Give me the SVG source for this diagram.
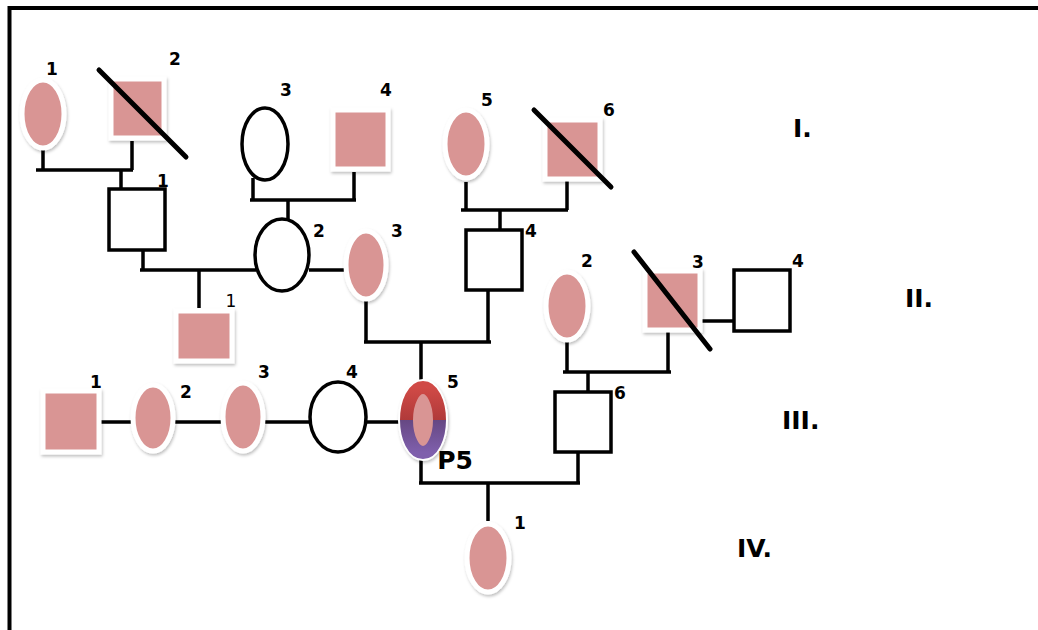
<svg xmlns="http://www.w3.org/2000/svg" width="1038" height="630" viewBox="0 0 1038 630">
<defs>
<style>
.pk{fill:#d99594;stroke:#fff;stroke-width:5;filter:url(#sh)}
.op{fill:#fff;stroke:#000;stroke-width:3.5}
.ln{fill:none;stroke:#000;stroke-width:3.5}
.dg{stroke:#000;stroke-width:5;stroke-linecap:round}
.lb{font-family:"DejaVu Sans",Verdana,sans-serif;font-weight:bold;font-size:17px;text-anchor:middle;fill:#000}
.lr{font-family:"DejaVu Sans",Verdana,sans-serif;font-size:17px;text-anchor:middle;fill:#000}
.gen{font-family:"DejaVu Sans",Verdana,sans-serif;font-weight:bold;font-size:25px;fill:#000}
</style>
<filter id="sh" x="-30%" y="-30%" width="160%" height="160%">
<feDropShadow dx="1" dy="2" stdDeviation="1.5" flood-color="#000" flood-opacity="0.25"/>
</filter>
<linearGradient id="ring" x1="0" y1="0" x2="0" y2="1">
<stop offset="0" stop-color="#d04a46"/>
<stop offset="0.5" stop-color="#b03a3a"/>
<stop offset="0.5" stop-color="#664883"/>
<stop offset="1" stop-color="#7f5fac"/>
</linearGradient>
</defs>
<rect width="1038" height="630" fill="#fff"/>
<g id="frame">
<line x1="9.5" y1="8" x2="1038" y2="8" stroke="#000" stroke-width="4"/>
<line x1="9.5" y1="6" x2="9.5" y2="630" stroke="#000" stroke-width="4"/>
</g>
<g id="connectors">
<path class="ln" d="M43,150 V170 M36,170 H133 M132,141 V170 M121,170 V190"/>
<path class="ln" d="M253,178 V200 M250,200 H356 M354,172 V200 M288,200 V220"/>
<path class="ln" d="M466,182 V210 M461,210 H568 M567,181 V210 M500,210 V230"/>
<path class="ln" d="M143,250 V270 M140,270 H256 M199,270 V308"/>
<path class="ln" d="M309,270 H346"/>
<path class="ln" d="M366,298 V342 M364,342 H491 M488,290 V342 M421,342 V381"/>
<path class="ln" d="M567,342 V372 M563,372 H671 M668,332 V372 M588,372 V392"/>
<path class="ln" d="M701,321 H734"/>
<path class="ln" d="M100,422 H132 M174,422 H222 M265,422 H310 M366,422 H400"/>
<path class="ln" d="M421,458 V483 M419,483 H580 M578,452 V483 M488,483 V521"/>
</g>
<g id="I-1"><ellipse class="pk" cx="43" cy="114" rx="21" ry="34"/><text class="lb" x="52" y="75">1</text></g>
<g id="I-2"><rect class="pk" x="111" y="79" width="53" height="59"/><line class="dg" x1="99" y1="70" x2="186" y2="157"/><text class="lb" x="175" y="65">2</text></g>
<g id="I-3"><ellipse class="op" cx="265" cy="144" rx="23" ry="36"/><text class="lb" x="286" y="96">3</text></g>
<g id="I-4"><rect class="pk" x="333" y="110" width="55" height="59"/><text class="lb" x="386" y="96">4</text></g>
<g id="I-5"><ellipse class="pk" cx="466" cy="144" rx="21" ry="34"/><text class="lb" x="487" y="106">5</text></g>
<g id="I-6"><rect class="pk" x="545" y="120" width="55" height="59"/><line class="dg" x1="534" y1="110" x2="611" y2="187"/><text class="lb" x="609" y="116">6</text></g>
<g id="II-1"><rect class="op" x="109" y="189" width="56" height="61"/><text class="lb" x="163" y="187">1</text></g>
<g id="II-2"><ellipse class="op" cx="282" cy="255" rx="27" ry="36"/><text class="lb" x="319" y="237">2</text></g>
<g id="II-1c"><rect class="pk" x="176" y="311" width="56" height="50"/><text class="lr" x="231" y="307">1</text></g>
<g id="II-3"><ellipse class="pk" cx="366" cy="265" rx="20" ry="34"/><text class="lb" x="397" y="237">3</text></g>
<g id="II-4"><rect class="op" x="466" y="230" width="56" height="60"/><text class="lb" x="531" y="237">4</text></g>
<g id="II-2b"><ellipse class="pk" cx="567" cy="306" rx="21" ry="34"/><text class="lb" x="587" y="267">2</text></g>
<g id="II-3b"><rect class="pk" x="645" y="271" width="55" height="59"/><line class="dg" x1="634" y1="252" x2="710" y2="349"/><text class="lb" x="698" y="268">3</text></g>
<g id="II-4b"><rect class="op" x="734" y="270" width="56" height="61"/><text class="lb" x="798" y="267">4</text></g>
<g id="III-1"><rect class="pk" x="43" y="391" width="56" height="61"/><text class="lb" x="96" y="388">1</text></g>
<g id="III-2"><ellipse class="pk" cx="153" cy="418" rx="20" ry="33"/><text class="lb" x="186" y="398">2</text></g>
<g id="III-3"><ellipse class="pk" cx="243" cy="417" rx="20" ry="34"/><text class="lb" x="264" y="378">3</text></g>
<g id="III-4"><ellipse class="op" cx="338" cy="417" rx="28" ry="35"/><text class="lb" x="352" y="378">4</text></g>
<g id="III-5">
<ellipse cx="423" cy="420" rx="25" ry="41" fill="#fff" filter="url(#sh)"/>
<ellipse cx="423" cy="420" rx="16.5" ry="32.5" fill="#d99594" stroke="url(#ring)" stroke-width="13"/>
<text class="lb" x="453" y="388">5</text>
<text class="lb" x="455" y="469" style="font-size:25px">P5</text>
</g>
<g id="III-6"><rect class="op" x="555" y="392" width="56" height="60"/><text class="lb" x="620" y="399">6</text></g>
<g id="IV-1"><ellipse class="pk" cx="488" cy="558" rx="21" ry="34"/><text class="lb" x="520" y="529">1</text></g>
<g id="generations">
<text class="gen" x="793" y="137">I.</text>
<text class="gen" x="905" y="307">II.</text>
<text class="gen" x="782" y="429">III.</text>
<text class="gen" x="737" y="557">IV.</text>
</g>
</svg>
